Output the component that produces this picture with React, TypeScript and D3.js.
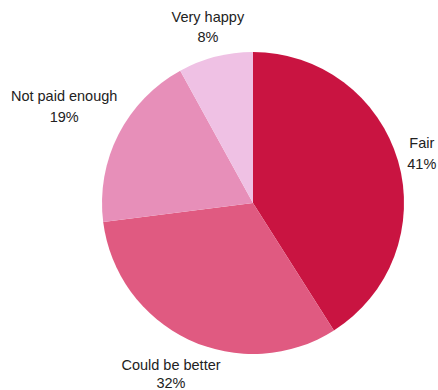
import React from "react";
import * as d3 from "d3";

const categories = ["Fair", "Could be better", "Not paid enough", "Very happy"];
const values = [41, 32, 19, 8];
const colors = ["#c91441", "#e05a81", "#e78fb9", "#efc1e4"];

const W = 438;
const H = 390;
const CX = 253;
const CY = 203;
const R = 151;
const FONT = "Liberation Sans, Arial, Helvetica, sans-serif";
const FS = 14.5;
const LINE = 20.5;

function measure(text: string): number {
  const c = document.createElement("canvas").getContext("2d");
  if (!c) return text.length * FS * 0.55;
  c.font = `${FS}px ${FONT}`;
  return c.measureText(text).width;
}

export default function App() {
  const pie = d3.pie<number>().sort(null).value((d) => d)(values);
  const arc = d3.arc<d3.PieArcDatum<number>>().innerRadius(0).outerRadius(R);
  const total = d3.sum(values);

  return (
    <svg width={W} height={H} style={{ position: "absolute", left: 0, top: 0 }}>
      <rect width={W} height={H} fill="#fff" />
      <g transform={`translate(${CX},${CY})`}>
        {pie.map((p, i) => (
          <path key={i} d={arc(p) || ""} fill={colors[i]} />
        ))}
        {pie.map((p, i) => {
          const a = (p.startAngle + p.endAngle) / 2;
          const s = Math.sin(a);
          const c = Math.cos(a);
          const l1 = categories[i];
          const l2 = `${Math.round((values[i] / total) * 100)}%`;
          const w = Math.max(measure(l1), measure(l2));
          const halfH = 15.5;
          const L = R + 6.5 + Math.abs(s) * (w / 2) + Math.abs(c) * halfH;
          const x = L * s;
          const y = -L * c;
          let b1 = y - 5.5;
          const maxB = H - 2.5 - CY;
          if (b1 > maxB - 17.5) b1 = maxB - 17.5;
          const gap = Math.min(LINE, maxB - b1);
          return (
            <g key={"l" + i} fontFamily={FONT} fontSize={FS} fill="#222" textAnchor="middle">
              <text x={x} y={b1}>{l1}</text>
              <text x={x} y={b1 + gap}>{l2}</text>
            </g>
          );
        })}
      </g>
    </svg>
  );
}
